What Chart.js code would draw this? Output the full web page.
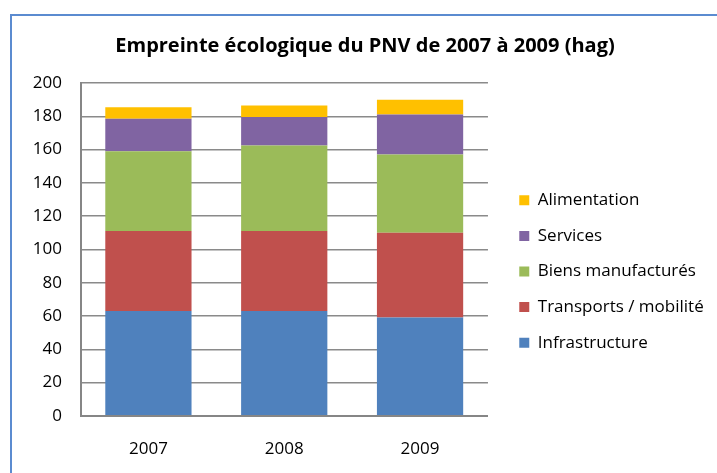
<!DOCTYPE html>
<html lang="fr">
<head>
<meta charset="utf-8">
<title>Empreinte écologique du PNV</title>
<script src="https://cdn.jsdelivr.net/npm/chart.js@4/dist/chart.umd.min.js"></script>
<style>
  html, body { margin: 0; padding: 0; background: #ffffff; overflow: hidden; }
  #wrap { position: relative; width: 717px; height: 473px; }
  #frame {
    position: absolute; left: 10px; top: 14px; width: 740px; height: 500px;
    border: 2px solid #5b8bd0; pointer-events: none;
  }
  canvas { position: absolute; left: 0; top: 0; }
</style>
</head>
<body>
<div id="wrap">
  <canvas id="chart" width="717" height="473"></canvas>
  <div id="frame"></div>
</div>
<script>
// Years on the x axis
const years = ['2007', '2008', '2009'];

// Footprint per sector (hag), stacked from the bottom up
const infrastructure = [63, 63, 59];
const transports = [48, 48, 51];
const biensManufactures = [48, 51.5, 47];
const services = [19.5, 17, 24];
const alimentation = [7, 7, 9];

// Y axis range
const yMin = 0;
const yMax = 200;
const yStep = 20;

const FONT = '"Open Sans", "DejaVu Sans", sans-serif';

// Moves the legend block away from the plot to leave a gap on its left
const legendNudge = {
  id: 'legendNudge',
  afterLayout(chart, args, opts) {
    const lg = chart.legend;
    if (!lg) return;
    lg.left += opts.dx; lg.right += opts.dx;
    lg.top += opts.dy; lg.bottom += opts.dy;
  }
};

const ds = (label, data, color) => ({
  label, data, backgroundColor: color, borderWidth: 0,
  barPercentage: 0.635, categoryPercentage: 1.0
});

new Chart(document.getElementById('chart'), {
  type: 'bar',
  data: {
    labels: years,
    datasets: [
      ds('Infrastructure', infrastructure, '#4f81bd'),
      ds('Transports / mobilité', transports, '#c0504d'),
      ds('Biens manufacturés', biensManufactures, '#9bbb59'),
      ds('Services', services, '#8064a2'),
      ds('Alimentation', alimentation, '#ffc000')
    ]
  },
  options: {
    responsive: false,
    animation: false,
    devicePixelRatio: 1,
    layout: { padding: { left: 29, right: 16, top: 0, bottom: 16 } },
    plugins: {
      title: {
        display: true,
        text: 'Empreinte écologique du PNV de 2007 à 2009 (hag)',
        color: '#000000',
        font: { family: FONT, size: 20, weight: 'bold' },
        padding: { top: 34, bottom: 25 }
      },
      legend: {
        position: 'right',
        reverse: true,
        maxWidth: 260,
        labels: {
          color: '#000000',
          font: { family: FONT, size: 17 },
          boxWidth: 10,
          boxHeight: 10,
          padding: 18.6
        }
      },
      tooltip: { enabled: false },
      legendNudge: { dx: 12.7, dy: 43 }
    },
    scales: {
      x: {
        stacked: true,
        afterFit(scale) { scale.height = 41.2; },
        grid: { display: false, drawTicks: false },
        border: { display: true, color: '#868686', width: 2 },
        ticks: { color: '#000000', font: { family: FONT, size: 17 }, padding: 23 }
      },
      y: {
        stacked: true,
        min: yMin,
        max: yMax,
        afterFit(scale) { scale.width = 51.5; },
        grid: { color: '#8a8a8a', lineWidth: 1.4, drawTicks: false },
        border: { display: true, color: '#868686', width: 2 },
        ticks: { stepSize: yStep, color: '#000000', font: { family: FONT, size: 17 }, padding: 18.5 }
      }
    }
  },
  plugins: [legendNudge]
});
</script>
</body>
</html>
